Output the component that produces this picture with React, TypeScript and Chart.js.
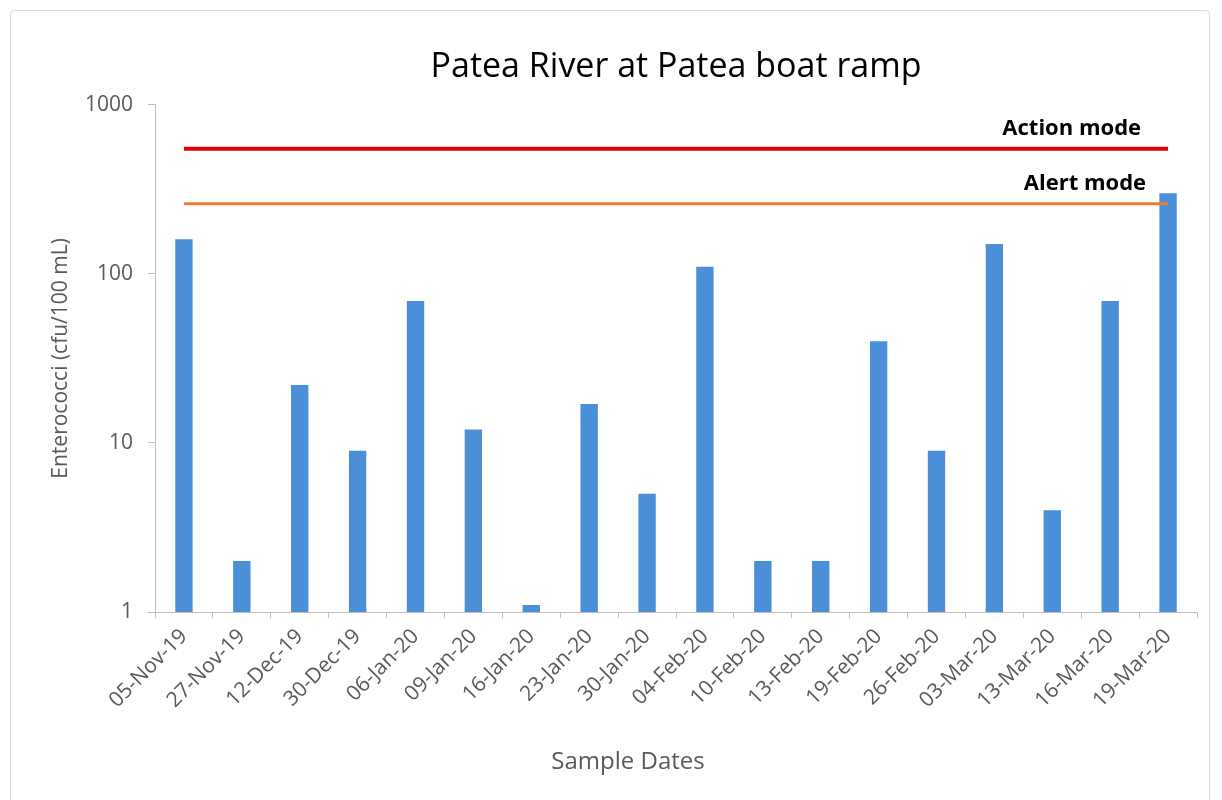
import React, { useEffect, useRef } from 'react';
import { Chart, registerables } from 'chart.js';

Chart.register(...registerables);

const categories = [
  '05-Nov-19', '27-Nov-19', '12-Dec-19', '30-Dec-19', '06-Jan-20', '09-Jan-20',
  '16-Jan-20', '23-Jan-20', '30-Jan-20', '04-Feb-20', '10-Feb-20', '13-Feb-20',
  '19-Feb-20', '26-Feb-20', '03-Mar-20', '13-Mar-20', '16-Mar-20', '19-Mar-20',
];
const enterococci = [160, 2, 22, 9, 69, 12, 1.1, 17, 5, 110, 2, 2, 40, 9, 150, 4, 69, 300];
const actionLevel = 550;
const alertLevel = 260;
const yTickValues = [1, 10, 100, 1000];

const chartTitle = 'Patea River at Patea boat ramp';
const yTitle = 'Enterococci (cfu/100 mL)';
const xTitle = 'Sample Dates';
const actionLabel = 'Action mode';
const alertLabel = 'Alert mode';

const FONT = "'Open Sans', 'Noto Sans', sans-serif";
const GRAY = '#595959';
const AXIS = '#bfbfbf';

const lineLabelPlugin = {
  id: 'lineLabels',
  afterDatasetsDraw(chart: any) {
    const ctx = chart.ctx;
    chart.data.datasets.forEach((ds: any, i: number) => {
      if (!ds.lineLabel) return;
      const meta = chart.getDatasetMeta(i);
      const pts = meta.data;
      if (!pts || !pts.length) return;
      const last = pts[pts.length - 1];
      ctx.save();
      ctx.font = `bold 22px ${FONT}`;
      ctx.fillStyle = '#000000';
      ctx.textAlign = 'right';
      ctx.textBaseline = 'alphabetic';
      ctx.fillText(ds.lineLabel, last.x + ds.labelDx, last.y - 14);
      ctx.restore();
    });
  },
};

const xTitlePlugin = {
  id: 'xTitle',
  afterDraw(chart: any) {
    const ctx = chart.ctx;
    const area = chart.chartArea;
    ctx.save();
    ctx.font = `24px ${FONT}`;
    ctx.fillStyle = GRAY;
    ctx.textAlign = 'center';
    ctx.textBaseline = 'middle';
    ctx.fillText(xTitle, (area.left + area.right) / 2 - 48, area.bottom + 150);
    ctx.restore();
  },
};

export default function App() {
  const ref = useRef<HTMLCanvasElement | null>(null);

  useEffect(() => {
    if (!ref.current) return;
    const chart = new Chart(ref.current, {
      type: 'bar',
      data: {
        labels: categories,
        datasets: [
          {
            type: 'line',
            label: actionLabel,
            data: categories.map(() => actionLevel),
            borderColor: '#e00000',
            borderWidth: 4,
            pointRadius: 0,
            fill: false,
            order: 1,
            lineLabel: actionLabel,
            labelDx: -27,
          } as any,
          {
            type: 'line',
            label: alertLabel,
            data: categories.map(() => alertLevel),
            borderColor: '#ed7d31',
            borderWidth: 3,
            pointRadius: 0,
            fill: false,
            order: 1,
            lineLabel: alertLabel,
            labelDx: -22,
          } as any,
          {
            type: 'bar',
            label: 'Enterococci',
            data: enterococci,
            backgroundColor: '#4a8fd8',
            borderWidth: 0,
            barPercentage: 0.3,
            categoryPercentage: 1,
            order: 2,
          },
        ],
      },
      options: {
        animation: false,
        responsive: false,
        maintainAspectRatio: false,
        layout: { padding: { top: 0, left: 48, right: 25, bottom: 24 } },
        plugins: {
          legend: { display: false },
          tooltip: { enabled: false },
          title: {
            display: true,
            fullSize: false,
            text: chartTitle,
            color: '#000000',
            font: { family: FONT, size: 34, weight: 'normal' },
            padding: { top: 47, bottom: 17 },
          },
        },
        scales: {
          x: {
            type: 'category',
            offset: true,
            grid: {
              offset: true,
              drawOnChartArea: false,
              drawTicks: true,
              tickLength: 6,
              color: AXIS,
            },
            border: { display: true, color: AXIS, width: 1 },
            ticks: {
              color: GRAY,
              font: { family: FONT, size: 21 },
              minRotation: 45,
              maxRotation: 45,
              autoSkip: false,
              padding: 6,
            },
            title: { display: false },
            afterFit: (scale: any) => {
              scale.height = 164;
            },
          },
          y: {
            type: 'logarithmic',
            min: 1,
            max: 1000,
            afterBuildTicks: (scale: any) => {
              scale.ticks = yTickValues.map((v) => ({ value: v }));
            },
            grid: {
              drawOnChartArea: false,
              drawTicks: true,
              tickLength: 7,
              color: AXIS,
            },
            border: { display: true, color: AXIS, width: 1 },
            ticks: {
              color: GRAY,
              font: { family: FONT, size: 21 },
              padding: 15,
              callback: (v: any) => String(v),
            },
            title: {
              display: true,
              text: yTitle,
              color: GRAY,
              font: { family: FONT, size: 21 },
              padding: { top: 0, bottom: 4 },
            },
            afterFit: (scale: any) => {
              scale.width = 107;
            },
          },
        },
      } as any,
      plugins: [lineLabelPlugin, xTitlePlugin],
    });
    return () => chart.destroy();
  }, []);

  return (
    <div style={{ position: 'fixed', left: 0, top: 0, width: 1222, height: 800, background: '#ffffff' }}>
      <div
        style={{
          position: 'absolute',
          left: 10,
          top: 10,
          width: 1200,
          height: 800,
          border: '1px solid #d9d9d9',
          borderRadius: 4,
          boxSizing: 'border-box',
        }}
      />
      <canvas ref={ref} width={1222} height={800} style={{ position: 'absolute', left: 0, top: 0 }} />
    </div>
  );
}
